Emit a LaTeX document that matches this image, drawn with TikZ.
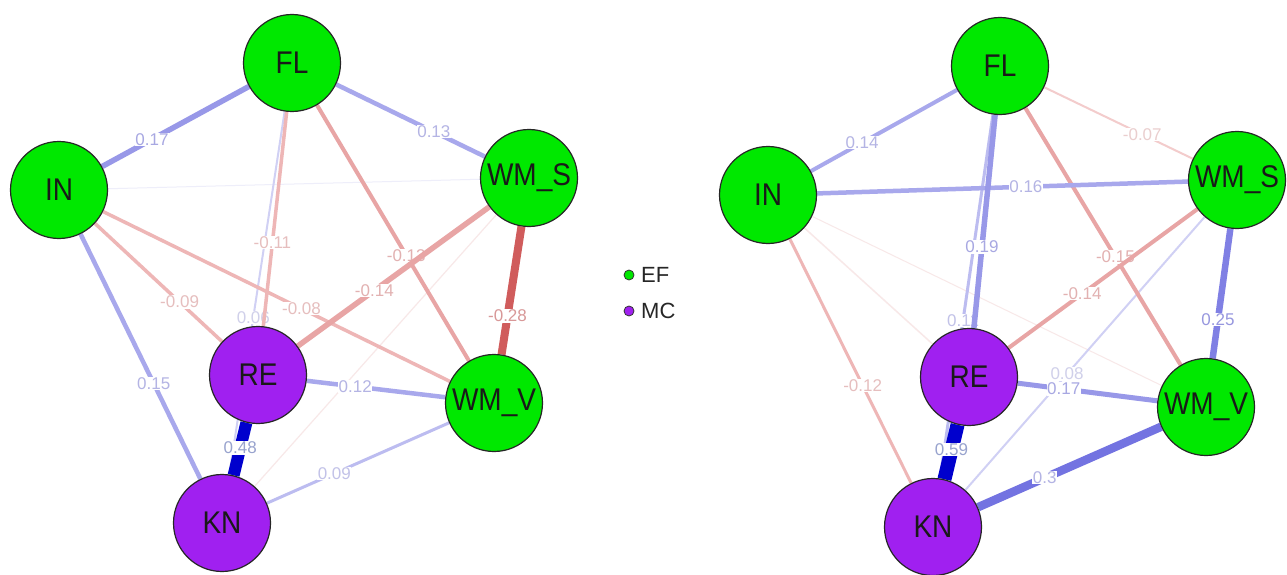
\documentclass[tikz,border=0pt]{standalone}
\usepackage{fontspec}
\setmainfont{Liberation Sans}
\usetikzlibrary{backgrounds}
\definecolor{efg}{RGB}{0,232,0}
\definecolor{mcp}{RGB}{160,32,240}
\definecolor{bA}{RGB}{0,0,205}
\definecolor{bB}{RGB}{115,115,225}
\definecolor{bC}{RGB}{128,128,228}
\definecolor{bD}{RGB}{152,152,232}
\definecolor{bE}{RGB}{168,168,236}
\definecolor{bF}{RGB}{188,188,240}
\definecolor{bG}{RGB}{208,208,244}
\definecolor{bH}{RGB}{238,238,250}
\definecolor{rA}{RGB}{208,92,92}
\definecolor{rB}{RGB}{232,165,165}
\definecolor{rC}{RGB}{238,182,182}
\definecolor{rD}{RGB}{243,204,204}
\definecolor{rH}{RGB}{248,232,232}
\definecolor{lA}{RGB}{130,145,205}
\definecolor{lR}{RGB}{218,130,130}
\newcommand{\vlab}[1]{\scalebox{1}[1.12]{#1}}
\tikzset{
  vnode/.style={circle, draw=black!85, line width=1.2pt, minimum size=97pt, inner sep=0pt,
    font=\fontsize{28}{28}\selectfont, text=black!90},
  efnode/.style={vnode, fill=efg},
  mcnode/.style={vnode, fill=mcp},
  ed/.style 2 args={draw=#1, line width=#2pt},
  lab/.style={fill=white, inner sep=0.6pt, text=#1!80!white!90!gray, font=\fontsize{17}{17}\selectfont},
  legdot/.style={circle, draw=black!80, line width=0.8pt, minimum size=10pt, inner sep=0pt},
  legtext/.style={anchor=west, inner sep=0pt, text=black!85, font=\fontsize{22}{22}\selectfont}
}
\begin{document}
\begin{tikzpicture}[x=1pt,y=-1pt]
\useasboundingbox (0,0) rectangle (1287,575);
% left network nodes
\node[efnode] (L-FL) at (292,63) {\vlab{FL}};
\node[efnode] (L-IN) at (59,190) {\vlab{IN}};
\node[efnode] (L-WMS) at (529,178) {\vlab{WM\_S}};
\node[mcnode] (L-RE) at (258,375) {\vlab{RE}};
\node[efnode] (L-WMV) at (494,403) {\vlab{WM\_V}};
\node[mcnode] (L-KN) at (222,523) {\vlab{KN}};
% right network nodes
\node[efnode] (R-FL) at (1000,66) {\vlab{FL}};
\node[efnode] (R-IN) at (768,195) {\vlab{IN}};
\node[efnode] (R-WMS) at (1237,180) {\vlab{WM\_S}};
\node[mcnode] (R-RE) at (969,377) {\vlab{RE}};
\node[efnode] (R-WMV) at (1206,407) {\vlab{WM\_V}};
\node[mcnode] (R-KN) at (933,527) {\vlab{KN}};
% legend
\node[legdot, fill=efg] (dEF) at (629,275) {};
\node[legtext] (tEF) at (641,275) {EF};
\node[legdot, fill=mcp] (dMC) at (629,311) {};
\node[legtext] (tMC) at (641,311) {MC};
\begin{pgfonlayer}{background}
\fill[white] (0,0) rectangle (1287,575);
% left edges
\draw[ed={bH}{1}] (L-IN) -- (L-WMS);
\draw[ed={rH}{1.2}] (L-WMS) -- (L-KN);
\draw[ed={bG}{2}] (L-FL) -- node[lab=bG, pos=0.567] {0.06} (L-KN);
\draw[ed={rC}{3.5}] (L-FL) -- node[lab=rC, pos=0.61] {-0.11} (L-RE);
\draw[ed={rC}{3.5}] (L-IN) -- node[lab=rC, pos=0.666] {-0.09} (L-RE);
\draw[ed={rC}{3.5}] (L-IN) -- node[lab=rC, pos=0.572] {-0.08} (L-WMV);
\draw[ed={rB}{4}] (L-FL) -- node[lab=rB, pos=0.587] {-0.13} (L-WMV);
\draw[ed={rB}{5.5}] (L-WMS) -- node[lab=rB, pos=0.60] {-0.14} (L-RE);
\draw[ed={bD}{5.5}] (L-FL) -- node[lab=bD, pos=0.66] {0.17} (L-IN);
\draw[ed={bE}{4.5}] (L-FL) -- node[lab=bE, pos=0.657] {0.13} (L-WMS);
\draw[ed={bE}{4.5}] (L-IN) -- node[lab=bE, pos=0.61] {0.15} (L-KN);
\draw[ed={bE}{4.5}] (L-RE) -- node[lab=bE, pos=0.35] {0.12} (L-WMV);
\draw[ed={bF}{3}] (L-KN) -- node[lab=bF, pos=0.37] {0.09} (L-WMV);
\draw[ed={rA}{8}] (L-WMS) -- node[lab=lR, pos=0.70] {-0.28} (L-WMV);
\draw[ed={bA}{12}] (L-RE) -- node[lab=lA, pos=0.48] {0.48} (L-KN);
% right edges
\draw[ed={rH}{1.5}] (R-IN) -- (R-RE);
\draw[ed={rH}{1}] (R-IN) -- (R-WMV);
\draw[ed={rD}{2}] (R-FL) -- node[lab=rD, pos=0.66] {-0.07} (R-WMS);
\draw[ed={bG}{2}] (R-WMS) -- node[lab=bG, pos=0.575] {0.08} (R-KN);
\draw[ed={rC}{3}] (R-IN) -- node[lab=rC, pos=0.60] {-0.12} (R-KN);
\draw[ed={bF}{3}] (R-FL) -- node[lab=bF, pos=0.565] {0.11} (R-KN);
\draw[ed={rB}{4}] (R-FL) -- node[lab=rB, pos=0.58] {-0.15} (R-WMV);
\draw[ed={rB}{4}] (R-WMS) -- node[lab=rB, pos=0.61] {-0.14} (R-RE);
\draw[ed={bE}{4}] (R-FL) -- node[lab=bE, pos=0.65] {0.14} (R-IN);
\draw[ed={bE}{4.5}] (R-IN) -- node[lab=bE, pos=0.563] {0.16} (R-WMS);
\draw[ed={bD}{5.5}] (R-FL) -- node[lab=bD, pos=0.62] {0.19} (R-RE);
\draw[ed={bD}{5}] (R-RE) -- node[lab=bD, pos=0.33] {0.17} (R-WMV);
\draw[ed={bC}{6.5}] (R-WMS) -- node[lab=bC, pos=0.70] {0.25} (R-WMV);
\draw[ed={bB}{8.5}] (R-KN) -- node[lab=bE, pos=0.365] {0.3} (R-WMV);
\draw[ed={bA}{14}] (R-RE) -- node[lab=lA, pos=0.46] {0.59} (R-KN);
\end{pgfonlayer}
\end{tikzpicture}
\end{document}
